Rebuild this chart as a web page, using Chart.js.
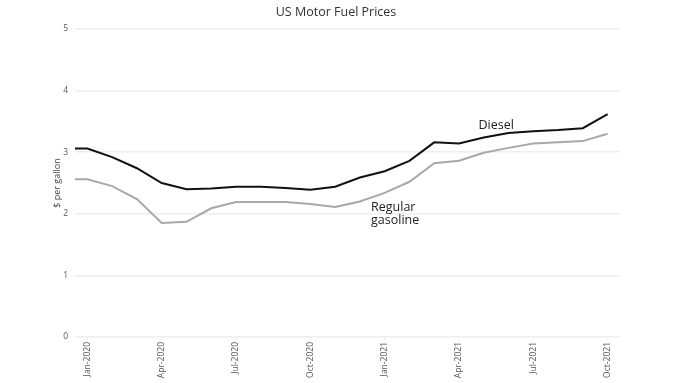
<!DOCTYPE html>
<html>
<head>
<meta charset="utf-8">
<script src="https://cdn.jsdelivr.net/npm/chart.js@4.4.0/dist/chart.umd.min.js"></script>
<style>
  html, body { margin: 0; padding: 0; background: #fff; }
  #wrap { width: 680px; height: 383px; position: relative; }
</style>
</head>
<body>
<div id="wrap"><canvas id="c" width="680" height="383"></canvas></div>
<script>
// Month index positions (0 = Jan-2020); first point is the half-month lead-in
const monthIndex = [-0.5, 0, 1, 2, 3, 4, 5, 6, 7, 8, 9, 10, 11, 12, 13, 14, 15, 16, 17, 18, 19, 20, 21];
const diesel   = [3.06, 3.06, 2.92, 2.74, 2.50, 2.40, 2.41, 2.44, 2.44, 2.42, 2.39, 2.44, 2.59, 2.69, 2.86, 3.16, 3.14, 3.24, 3.31, 3.34, 3.36, 3.39, 3.62];
const gasoline = [2.56, 2.56, 2.45, 2.24, 1.85, 1.87, 2.09, 2.19, 2.19, 2.19, 2.16, 2.11, 2.20, 2.34, 2.52, 2.82, 2.86, 2.99, 3.07, 3.14, 3.16, 3.18, 3.30];
const xTickValues = [0, 3, 6, 9, 12, 15, 18, 21];
const xTickLabels = ['Jan-2020', 'Apr-2020', 'Jul-2020', 'Oct-2020', 'Jan-2021', 'Apr-2021', 'Jul-2021', 'Oct-2021'];
const yTicks = [0, 1, 2, 3, 4, 5];

const FONT = "'Open Sans', 'DejaVu Sans', sans-serif";

const labelPlugin = {
  id: 'seriesLabels',
  afterDatasetsDraw(chart) {
    const { ctx, scales: { x, y } } = chart;
    ctx.save();
    ctx.fillStyle = '#222';
    ctx.font = "12.5px " + FONT;
    ctx.textBaseline = 'middle';
    ctx.textAlign = 'center';
    ctx.fillText('Diesel', x.getPixelForValue(16.5), y.getPixelForValue(3.43));
    ctx.textAlign = 'left';
    ctx.fillText('Regular', x.getPixelForValue(11.45), y.getPixelForValue(2.11));
    ctx.fillText('gasoline', x.getPixelForValue(11.45), y.getPixelForValue(1.885));
    ctx.restore();
  }
};

new Chart(document.getElementById('c'), {
  type: 'line',
  data: {
    datasets: [
      {
        label: 'Diesel',
        data: monthIndex.map((m, i) => ({ x: m, y: diesel[i] })),
        borderColor: '#111111',
        borderWidth: 2,
        pointRadius: 0,
        tension: 0
      },
      {
        label: 'Regular gasoline',
        data: monthIndex.map((m, i) => ({ x: m, y: gasoline[i] })),
        borderColor: '#a8a8a8',
        borderWidth: 2,
        pointRadius: 0,
        tension: 0
      }
    ]
  },
  options: {
    responsive: false,
    animation: false,
    layout: { padding: { left: 52, right: 60, top: 0, bottom: 0 } },
    plugins: {
      legend: { display: false },
      tooltip: { enabled: false },
      title: {
        display: true,
        text: 'US Motor Fuel Prices',
        color: '#333',
        font: { family: FONT, size: 12.5, weight: 'normal' },
        padding: { top: 5, bottom: 9 }
      }
    },
    scales: {
      x: {
        type: 'linear',
        min: -0.5,
        max: 21.5,
        afterBuildTicks: axis => { axis.ticks = xTickValues.map(v => ({ value: v })); },
        afterFit: s => { s.height = 46; },
        grid: { display: true, drawOnChartArea: false, color: '#eeeeee', tickLength: 3 },
        border: { display: false },
        ticks: {
          autoSkip: false,
          minRotation: 90,
          maxRotation: 90,
          padding: 2,
          color: '#555',
          font: { family: FONT, size: 8.5 },
          callback: v => { const i = xTickValues.indexOf(v); return i >= 0 ? xTickLabels[i] : ''; }
        }
      },
      y: {
        min: 0,
        max: 5,
        afterBuildTicks: axis => { axis.ticks = yTicks.map(v => ({ value: v })); },
        afterFit: s => { s.width = 23; },
        grid: { color: '#eeeeee', lineWidth: 1.5, drawTicks: false },
        border: { display: false },
        title: {
          display: true,
          text: '$ per gallon',
          color: '#444',
          font: { family: FONT, size: 9 },
          padding: { top: 0, bottom: 4 }
        },
        ticks: {
          padding: 7,
          color: '#555',
          font: { family: FONT, size: 8.5 }
        }
      }
    }
  },
  plugins: [labelPlugin]
});
</script>
</body>
</html>
